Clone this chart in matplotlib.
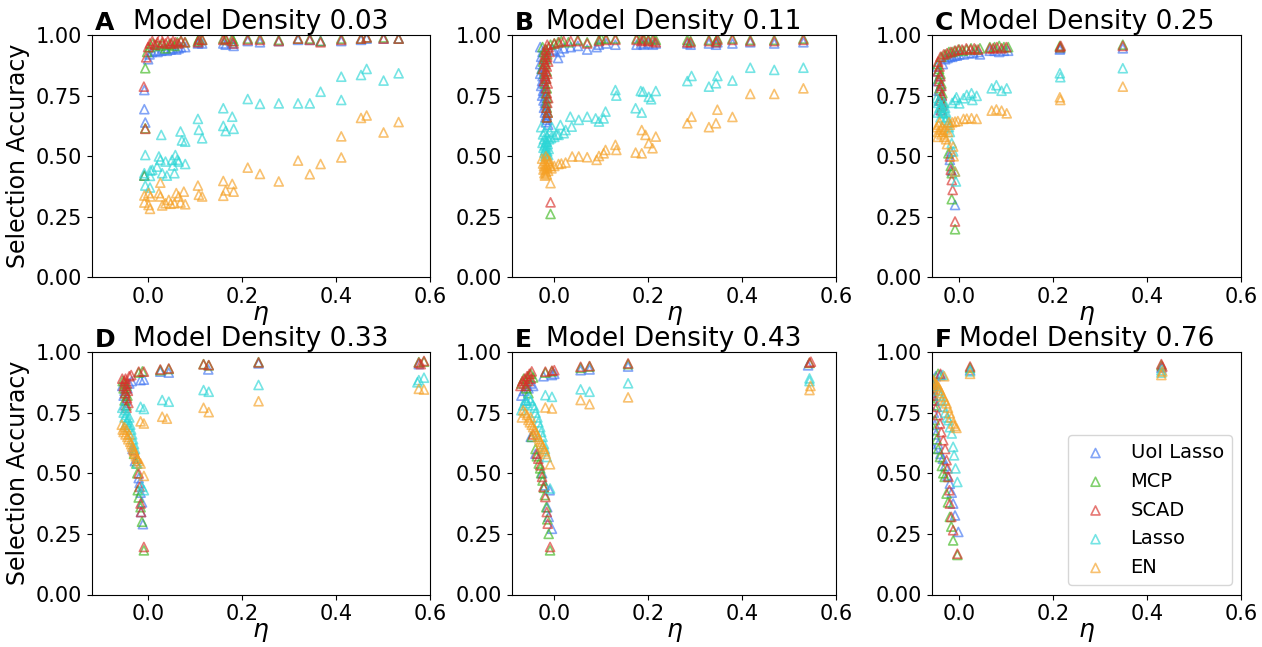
import matplotlib
matplotlib.use("Agg")
import matplotlib.pyplot as plt

methods = ["UoI Lasso", "MCP", "SCAD", "Lasso", "EN"]
colors = ["#3f74f2", "#3cb81e", "#d9302a", "#2cd6d6", "#f5a024"]
letters = ["A", "B", "C", "D", "E", "F"]
densities = ["0.03", "0.11", "0.25", "0.33", "0.43", "0.76"]
xlefts = [-0.12, -0.09, -0.058, -0.12, -0.09, -0.058]

# (eta, selection accuracy)
a_uoi = [(-0.008,0.42),(-0.008,0.773),(-0.008,0.694),(-0.006,0.639),(0.0,0.90),(0.003,0.92),(0.008,0.93),(0.015,0.935),(0.02,0.93),(0.028,0.935),(0.035,0.94),(0.04,0.935),(0.048,0.94),(0.052,0.945),(0.06,0.94),(0.065,0.945),(0.07,0.95),(0.079,0.95),(0.106,0.965),(0.108,0.97),(0.115,0.965),(0.16,0.965),(0.165,0.96),(0.179,0.965),(0.182,0.955),(0.212,0.975),(0.238,0.97),(0.278,0.975),(0.319,0.98),(0.344,0.98),(0.367,0.975),(0.411,0.975),(0.453,0.98),(0.465,0.985),(0.501,0.985),(0.533,0.985)]
a_mcp = [(-0.008,0.42),(-0.006,0.615),(-0.006,0.863),(-0.002,0.93),(0.004,0.95),(0.01,0.965),(0.018,0.96),(0.026,0.955),(0.03,0.965),(0.037,0.945),(0.044,0.96),(0.05,0.965),(0.056,0.955),(0.062,0.97),(0.07,0.975),(0.079,0.97),(0.106,0.975),(0.108,0.985),(0.115,0.98),(0.16,0.985),(0.165,0.98),(0.179,0.985),(0.182,0.975),(0.212,0.985),(0.238,0.985),(0.278,0.98),(0.319,0.985),(0.344,0.985),(0.367,0.975),(0.411,0.985),(0.453,0.985),(0.465,0.99),(0.501,0.99),(0.533,0.985)]
a_scad = [(-0.009,0.787),(-0.006,0.613),(-0.004,0.908),(0.0,0.95),(0.004,0.965),(0.009,0.975),(0.014,0.96),(0.02,0.97),(0.026,0.99),(0.03,0.97),(0.037,0.965),(0.042,0.975),(0.048,0.965),(0.053,0.975),(0.058,0.97),(0.064,0.965),(0.07,0.975),(0.078,0.97),(0.106,0.97),(0.108,0.98),(0.115,0.98),(0.16,0.98),(0.165,0.985),(0.179,0.975),(0.182,0.965),(0.212,0.98),(0.238,0.98),(0.278,0.975),(0.319,0.985),(0.344,0.98),(0.367,0.97),(0.411,0.98),(0.453,0.985),(0.465,0.99),(0.501,0.985),(0.533,0.985)]
a_lasso = [(0.106,0.654),(0.108,0.609),(0.115,0.574),(0.16,0.698),(0.16,0.625),(0.165,0.604),(0.179,0.663),(0.182,0.613),(0.212,0.736),(0.238,0.716),(0.278,0.718),(0.319,0.718),(0.344,0.718),(0.367,0.766),(0.411,0.732),(0.411,0.828),(0.453,0.835),(0.465,0.86),(0.501,0.812),(0.533,0.842),(0.028,0.588),(0.069,0.602),(0.072,0.565),(0.079,0.56),(-0.006,0.505),(0.023,0.499),(0.026,0.485),(0.019,0.457),(0.009,0.444),(0.037,0.478),(0.051,0.485),(0.058,0.505),(0.062,0.485),(0.065,0.478),(0.053,0.462),(0.079,0.468),(0.03,0.43),(0.04,0.42),(0.056,0.43),(0.004,0.419),(-0.006,0.379),(0.004,0.371),(0.005,0.441),(-0.008,0.43)]
a_en = [(0.026,0.391),(-0.008,0.338),(0.001,0.348),(0.005,0.334),(-0.008,0.309),(0.001,0.299),(0.004,0.283),(0.023,0.348),(0.026,0.334),(0.03,0.297),(0.037,0.306),(0.044,0.32),(0.048,0.304),(0.056,0.306),(0.06,0.348),(0.065,0.334),(0.069,0.309),(0.076,0.354),(0.079,0.302),(0.106,0.379),(0.108,0.341),(0.115,0.334),(0.16,0.398),(0.16,0.337),(0.165,0.359),(0.179,0.386),(0.182,0.354),(0.212,0.453),(0.238,0.427),(0.278,0.396),(0.319,0.482),(0.344,0.426),(0.367,0.468),(0.411,0.495),(0.411,0.582),(0.453,0.658),(0.465,0.668),(0.501,0.598),(0.533,0.641)]

b_uoi = [(-0.03,0.95),(-0.025,0.93),(-0.028,0.91),(-0.02,0.9),(-0.03,0.88),(-0.024,0.87),(-0.027,0.86),(-0.022,0.85),(-0.03,0.84),(-0.025,0.83),(-0.02,0.82),(-0.026,0.81),(-0.023,0.8),(-0.028,0.79),(-0.02,0.78),(-0.024,0.77),(-0.021,0.76),(-0.026,0.75),(-0.019,0.74),(-0.023,0.73),(-0.02,0.72),(-0.018,0.71),(-0.022,0.70),(-0.017,0.69),(-0.02,0.68),(-0.016,0.67),(-0.019,0.66),(-0.015,0.65),(-0.018,0.64),(-0.013,0.63),(-0.005,0.94),(0.0,0.935),(0.008,0.905),(0.012,0.93),(0.02,0.945),(0.035,0.95),(0.05,0.955),(0.07,0.94),(0.09,0.95),(0.095,0.96),(0.11,0.965),(0.13,0.96),(0.175,0.96),(0.185,0.965),(0.19,0.96),(0.2,0.965),(0.21,0.96),(0.216,0.965),(0.283,0.965),(0.29,0.96),(0.329,0.965),(0.344,0.96),(0.347,0.97),(0.379,0.965),(0.417,0.97),(0.468,0.965),(0.53,0.97)]
b_mcp = [(-0.025,0.95),(-0.018,0.94),(-0.022,0.93),(-0.015,0.92),(-0.02,0.91),(-0.017,0.9),(-0.024,0.89),(-0.019,0.88),(-0.026,0.86),(-0.016,0.85),(-0.021,0.84),(-0.018,0.82),(-0.02,0.8),(-0.016,0.78),(-0.018,0.76),(-0.015,0.74),(-0.017,0.72),(-0.016,0.70),(-0.014,0.68),(-0.016,0.66),(-0.008,0.262),(-0.008,0.96),(0.0,0.965),(0.008,0.97),(0.015,0.975),(0.03,0.97),(0.05,0.98),(0.07,0.97),(0.095,0.98),(0.1,0.985),(0.11,0.985),(0.13,0.985),(0.175,0.985),(0.185,0.99),(0.19,0.985),(0.2,0.98),(0.21,0.985),(0.216,0.98),(0.283,0.98),(0.29,0.975),(0.329,0.98),(0.344,0.975),(0.347,0.985),(0.379,0.985),(0.417,0.98),(0.468,0.98),(0.53,0.985)]
b_scad = [(-0.015,0.96),(-0.012,0.95),(-0.018,0.94),(-0.01,0.93),(-0.02,0.92),(-0.015,0.91),(-0.022,0.9),(-0.013,0.89),(-0.02,0.88),(-0.016,0.87),(-0.024,0.86),(-0.018,0.85),(-0.015,0.84),(-0.02,0.83),(-0.017,0.82),(-0.022,0.81),(-0.014,0.8),(-0.018,0.78),(-0.016,0.76),(-0.013,0.74),(-0.015,0.72),(-0.017,0.70),(-0.014,0.68),(-0.016,0.66),(-0.008,0.31),(0.0,0.965),(0.01,0.97),(0.02,0.975),(0.035,0.975),(0.05,0.975),(0.07,0.965),(0.095,0.975),(0.11,0.98),(0.13,0.98),(0.175,0.98),(0.185,0.975),(0.19,0.98),(0.2,0.975),(0.21,0.975),(0.216,0.97),(0.283,0.97),(0.29,0.97),(0.329,0.975),(0.344,0.97),(0.347,0.98),(0.379,0.98),(0.417,0.975),(0.468,0.975),(0.53,0.98)]
b_lasso = [(-0.028,0.62),(-0.02,0.60),(-0.024,0.59),(-0.016,0.58),(-0.022,0.57),(-0.018,0.56),(-0.025,0.555),(-0.014,0.55),(-0.02,0.545),(-0.017,0.54),(-0.023,0.535),(-0.012,0.53),(-0.019,0.525),(-0.015,0.52),(-0.021,0.515),(-0.017,0.51),(-0.013,0.505),(-0.019,0.5),(-0.016,0.56),(-0.011,0.57),(-0.01,0.6),(-0.005,0.62),(0.0,0.58),(0.005,0.59),(-0.007,0.575),(0.009,0.588),(0.013,0.629),(0.02,0.595),(0.024,0.608),(0.034,0.663),(0.037,0.622),(0.052,0.65),(0.07,0.663),(0.088,0.656),(0.095,0.643),(0.109,0.684),(0.105,0.656),(0.13,0.773),(0.132,0.75),(0.173,0.698),(0.186,0.68),(0.184,0.769),(0.189,0.766),(0.201,0.745),(0.206,0.735),(0.216,0.769),(0.283,0.81),(0.292,0.831),(0.329,0.787),(0.344,0.801),(0.347,0.831),(0.379,0.812),(0.417,0.865),(0.468,0.856),(0.53,0.865)]
b_en = [(-0.026,0.49),(-0.02,0.48),(-0.024,0.47),(-0.017,0.465),(-0.022,0.46),(-0.015,0.455),(-0.019,0.45),(-0.023,0.445),(-0.013,0.44),(-0.018,0.435),(-0.021,0.43),(-0.016,0.425),(-0.02,0.42),(-0.012,0.47),(-0.01,0.48),(-0.014,0.49),(-0.008,0.46),(-0.006,0.45),(-0.018,0.5),(-0.008,0.389),(0.0,0.46),(0.009,0.468),(0.015,0.47),(0.024,0.474),(0.038,0.499),(0.052,0.499),(0.07,0.496),(0.09,0.485),(0.095,0.501),(0.105,0.512),(0.109,0.526),(0.13,0.547),(0.132,0.526),(0.173,0.515),(0.186,0.512),(0.186,0.608),(0.194,0.588),(0.201,0.554),(0.209,0.533),(0.216,0.581),(0.283,0.636),(0.292,0.663),(0.329,0.62),(0.344,0.636),(0.347,0.692),(0.379,0.662),(0.417,0.757),(0.468,0.757),(0.53,0.78)]

c_uoi = [(-0.048,0.87),(-0.045,0.85),(-0.042,0.83),(-0.046,0.81),(-0.04,0.79),(-0.044,0.77),(-0.038,0.75),(-0.042,0.73),(-0.036,0.71),(-0.04,0.69),(-0.035,0.88),(-0.03,0.90),(-0.025,0.905),(-0.02,0.91),(-0.015,0.91),(-0.01,0.915),(-0.005,0.915),(0.0,0.92),(0.01,0.92),(0.02,0.925),(0.03,0.925),(0.04,0.93),(0.044,0.92),(0.065,0.935),(0.075,0.935),(0.085,0.93),(0.095,0.935),(0.104,0.935),(0.214,0.94),(0.215,0.945),(0.348,0.945),(-0.02,0.485),(-0.016,0.44),(-0.009,0.299),(-0.018,0.52)]
c_mcp = [(-0.046,0.88),(-0.043,0.86),(-0.04,0.84),(-0.044,0.82),(-0.038,0.80),(-0.042,0.78),(-0.036,0.76),(-0.04,0.74),(-0.034,0.72),(-0.038,0.70),(-0.035,0.68),(-0.038,0.91),(-0.03,0.92),(-0.022,0.93),(-0.015,0.93),(-0.008,0.935),(0.0,0.94),(0.008,0.935),(0.016,0.94),(0.025,0.945),(0.035,0.94),(0.044,0.945),(0.065,0.95),(0.075,0.95),(0.085,0.955),(0.095,0.95),(0.104,0.95),(0.214,0.955),(0.215,0.95),(0.348,0.96),(-0.023,0.512),(-0.018,0.46),(-0.016,0.43),(-0.016,0.323),(-0.009,0.199)]
c_scad = [(-0.045,0.89),(-0.042,0.87),(-0.046,0.85),(-0.04,0.83),(-0.043,0.81),(-0.038,0.79),(-0.041,0.77),(-0.037,0.75),(-0.04,0.73),(-0.036,0.71),(-0.038,0.69),(-0.04,0.91),(-0.033,0.92),(-0.026,0.925),(-0.018,0.93),(-0.01,0.935),(-0.002,0.94),(0.006,0.94),(0.015,0.945),(0.024,0.94),(0.032,0.945),(0.04,0.94),(0.065,0.945),(0.072,0.945),(0.08,0.95),(0.09,0.945),(0.1,0.95),(0.214,0.95),(0.216,0.955),(0.348,0.955),(-0.02,0.499),(-0.018,0.444),(-0.016,0.402),(-0.014,0.361),(-0.009,0.231)]
c_lasso = [(-0.048,0.74),(-0.045,0.72),(-0.042,0.70),(-0.046,0.68),(-0.04,0.66),(-0.044,0.73),(-0.038,0.71),(-0.036,0.69),(-0.034,0.675),(-0.03,0.70),(-0.032,0.72),(-0.028,0.68),(-0.026,0.66),(-0.03,0.65),(-0.024,0.64),(-0.022,0.62),(-0.02,0.60),(-0.015,0.72),(-0.009,0.732),(-0.006,0.743),(0.0,0.718),(0.009,0.739),(0.016,0.753),(0.026,0.76),(0.028,0.732),(0.037,0.749),(0.069,0.78),(0.079,0.793),(0.09,0.77),(0.101,0.78),(0.214,0.842),(0.215,0.826),(0.348,0.863),(-0.016,0.554),(-0.013,0.52),(-0.009,0.437),(-0.007,0.396)]
c_en = [(-0.048,0.62),(-0.045,0.60),(-0.042,0.64),(-0.046,0.58),(-0.04,0.61),(-0.044,0.63),(-0.038,0.59),(-0.036,0.62),(-0.034,0.60),(-0.032,0.58),(-0.03,0.61),(-0.028,0.57),(-0.026,0.55),(-0.024,0.60),(-0.022,0.64),(-0.02,0.63),(-0.015,0.64),(-0.009,0.643),(-0.003,0.645),(0.009,0.654),(0.016,0.655),(0.026,0.657),(0.037,0.654),(0.069,0.688),(0.079,0.693),(0.09,0.688),(0.101,0.677),(0.214,0.743),(0.215,0.732),(0.348,0.787),(-0.013,0.54),(-0.012,0.50),(-0.009,0.437)]

d_uoi = [(-0.055,0.86),(-0.05,0.84),(-0.052,0.82),(-0.047,0.80),(-0.05,0.78),(-0.044,0.85),(-0.04,0.87),(-0.035,0.88),(-0.016,0.884),(-0.009,0.886),(0.026,0.919),(0.044,0.915),(0.128,0.928),(0.235,0.953),(0.576,0.95),(-0.033,0.60),(-0.028,0.55),(-0.02,0.48),(-0.018,0.46),(-0.016,0.42),(-0.013,0.38),(-0.011,0.29),(-0.015,0.34)]
d_mcp = [(-0.054,0.88),(-0.05,0.87),(-0.046,0.86),(-0.052,0.85),(-0.048,0.83),(-0.044,0.82),(-0.05,0.80),(-0.046,0.78),(-0.02,0.915),(-0.012,0.92),(0.026,0.925),(0.044,0.93),(0.118,0.95),(0.129,0.945),(0.235,0.958),(0.576,0.958),(0.587,0.96),(-0.03,0.58),(-0.025,0.54),(-0.023,0.50),(-0.022,0.43),(-0.02,0.40),(-0.016,0.36),(-0.013,0.30),(-0.009,0.182)]
d_scad = [(-0.055,0.89),(-0.05,0.88),(-0.048,0.89),(-0.045,0.87),(-0.052,0.86),(-0.047,0.85),(-0.043,0.84),(-0.049,0.83),(-0.045,0.81),(-0.042,0.79),(-0.046,0.77),(-0.04,0.90),(-0.036,0.905),(-0.02,0.919),(-0.009,0.919),(0.026,0.928),(0.044,0.932),(0.118,0.949),(0.129,0.946),(0.235,0.957),(0.576,0.956),(0.587,0.963),(0.58,0.95),(-0.03,0.595),(-0.023,0.56),(-0.02,0.499),(-0.018,0.444),(-0.016,0.375),(-0.015,0.34),(-0.009,0.196)]
d_lasso = [(-0.055,0.77),(-0.052,0.75),(-0.048,0.76),(-0.05,0.73),(-0.046,0.74),(-0.044,0.72),(-0.048,0.70),(-0.042,0.69),(-0.045,0.71),(-0.04,0.73),(-0.038,0.70),(-0.036,0.68),(-0.034,0.66),(-0.032,0.64),(-0.03,0.62),(-0.028,0.60),(-0.016,0.774),(-0.009,0.765),(0.03,0.802),(0.044,0.795),(0.118,0.843),(0.129,0.836),(0.235,0.864),(0.576,0.884),(0.587,0.894),(0.573,0.875),(-0.023,0.54),(-0.013,0.444),(-0.009,0.43)]
d_en = [(-0.056,0.70),(-0.054,0.68),(-0.05,0.69),(-0.052,0.67),(-0.048,0.66),(-0.046,0.68),(-0.044,0.65),(-0.042,0.64),(-0.04,0.66),(-0.038,0.63),(-0.036,0.62),(-0.034,0.61),(-0.032,0.60),(-0.03,0.59),(-0.028,0.58),(-0.026,0.57),(-0.024,0.56),(-0.02,0.55),(-0.016,0.714),(-0.009,0.705),(0.03,0.733),(0.04,0.725),(0.118,0.77),(0.129,0.752),(0.235,0.797),(0.576,0.848),(0.587,0.845),(-0.016,0.54),(-0.009,0.489)]

e_uoi = [(-0.07,0.82),(-0.065,0.84),(-0.06,0.86),(-0.055,0.85),(-0.05,0.87),(-0.045,0.86),(-0.06,0.80),(-0.023,0.90),(-0.005,0.905),(0.0,0.91),(0.056,0.925),(0.075,0.928),(0.157,0.94),(0.54,0.945),(-0.05,0.65),(-0.04,0.58),(-0.026,0.50),(-0.02,0.45),(-0.01,0.43),(-0.015,0.36),(-0.005,0.271),(-0.012,0.32)]
e_mcp = [(-0.07,0.87),(-0.065,0.89),(-0.06,0.88),(-0.055,0.90),(-0.05,0.91),(-0.045,0.895),(-0.06,0.85),(-0.055,0.83),(-0.019,0.915),(-0.005,0.92),(0.056,0.935),(0.075,0.94),(0.157,0.95),(0.543,0.955),(-0.048,0.65),(-0.04,0.60),(-0.037,0.57),(-0.033,0.54),(-0.03,0.52),(-0.028,0.50),(-0.025,0.47),(-0.022,0.44),(-0.02,0.41),(-0.017,0.36),(-0.015,0.31),(-0.012,0.25),(-0.009,0.182)]
e_scad = [(-0.072,0.86),(-0.068,0.88),(-0.063,0.89),(-0.058,0.90),(-0.053,0.91),(-0.048,0.92),(-0.065,0.87),(-0.06,0.86),(-0.055,0.88),(-0.05,0.89),(-0.019,0.919),(-0.005,0.923),(0.0,0.925),(0.056,0.939),(0.075,0.942),(0.157,0.953),(0.543,0.956),(0.546,0.96),(-0.045,0.66),(-0.037,0.581),(-0.034,0.56),(-0.03,0.533),(-0.026,0.485),(-0.023,0.444),(-0.019,0.402),(-0.016,0.34),(-0.014,0.292),(-0.009,0.196)]
e_lasso = [(-0.07,0.76),(-0.066,0.78),(-0.062,0.80),(-0.058,0.79),(-0.054,0.81),(-0.05,0.80),(-0.046,0.78),(-0.042,0.77),(-0.04,0.75),(-0.036,0.73),(-0.034,0.71),(-0.03,0.69),(-0.028,0.67),(-0.025,0.65),(-0.022,0.62),(-0.02,0.60),(-0.019,0.822),(-0.005,0.815),(0.056,0.846),(0.075,0.836),(0.157,0.871),(0.543,0.891),(0.543,0.88),(-0.016,0.567),(-0.009,0.437)]
e_en = [(-0.069,0.73),(-0.066,0.76),(-0.062,0.75),(-0.058,0.74),(-0.055,0.72),(-0.052,0.71),(-0.05,0.73),(-0.048,0.70),(-0.045,0.69),(-0.042,0.68),(-0.04,0.67),(-0.038,0.66),(-0.035,0.65),(-0.032,0.64),(-0.03,0.63),(-0.028,0.62),(-0.025,0.61),(-0.022,0.60),(-0.02,0.59),(-0.018,0.58),(-0.019,0.771),(-0.005,0.767),(0.056,0.802),(0.075,0.785),(0.157,0.813),(0.543,0.843),(0.545,0.86),(-0.009,0.537)]

f_uoi = [(-0.056,0.87),(-0.056,0.85),(-0.055,0.80),(-0.054,0.75),(-0.052,0.70),(-0.05,0.66),(-0.055,0.602),(-0.045,0.62),(-0.04,0.58),(-0.035,0.56),(-0.03,0.53),(-0.025,0.49),(-0.02,0.457),(-0.016,0.42),(-0.013,0.375),(-0.009,0.326),(-0.002,0.258),(-0.05,0.90),(-0.04,0.905),(0.023,0.925),(0.43,0.935)]
f_mcp = [(-0.056,0.86),(-0.056,0.82),(-0.054,0.78),(-0.052,0.72),(-0.052,0.678),(-0.048,0.64),(-0.045,0.60),(-0.041,0.567),(-0.037,0.53),(-0.034,0.50),(-0.031,0.485),(-0.027,0.416),(-0.024,0.38),(-0.02,0.32),(-0.017,0.28),(-0.013,0.223),(-0.004,0.163),(-0.045,0.91),(0.023,0.935),(0.43,0.945)]
f_scad = [(-0.056,0.87),(-0.055,0.86),(-0.056,0.843),(-0.055,0.82),(-0.052,0.80),(-0.048,0.774),(-0.045,0.74),(-0.041,0.705),(-0.038,0.67),(-0.034,0.636),(-0.03,0.60),(-0.027,0.554),(-0.025,0.52),(-0.023,0.485),(-0.021,0.43),(-0.02,0.375),(-0.017,0.32),(-0.013,0.265),(-0.004,0.168),(-0.04,0.91),(0.023,0.94),(0.43,0.95),(0.432,0.94)]
f_lasso = [(-0.056,0.89),(-0.056,0.88),(-0.052,0.87),(-0.048,0.86),(-0.044,0.84),(-0.04,0.82),(-0.037,0.80),(-0.034,0.774),(-0.03,0.75),(-0.026,0.73),(-0.023,0.719),(-0.02,0.69),(-0.016,0.664),(-0.013,0.609),(-0.011,0.574),(-0.008,0.52),(-0.004,0.464),(-0.035,0.905),(0.023,0.92),(0.43,0.925),(0.43,0.915)]
f_en = [(-0.056,0.88),(-0.055,0.885),(-0.054,0.875),(-0.05,0.87),(-0.047,0.865),(-0.044,0.855),(-0.041,0.843),(-0.038,0.83),(-0.034,0.815),(-0.031,0.80),(-0.027,0.788),(-0.024,0.77),(-0.02,0.747),(-0.017,0.73),(-0.013,0.705),(-0.009,0.695),(-0.006,0.687),(-0.032,0.90),(0.023,0.91),(0.43,0.905),(0.432,0.92)]

panels = [
    [a_uoi, a_mcp, a_scad, a_lasso, a_en],
    [b_uoi, b_mcp, b_scad, b_lasso, b_en],
    [c_uoi, c_mcp, c_scad, c_lasso, c_en],
    [d_uoi, d_mcp, d_scad, d_lasso, d_en],
    [e_uoi, e_mcp, e_scad, e_lasso, e_en],
    [f_uoi, f_mcp, f_scad, f_lasso, f_en],
]

W, H = 1262, 647
fig = plt.figure(figsize=(W / 100, H / 100), dpi=100)

# every panel shares the same eta scale, so widths follow the x limits
px_per_unit = 470.0
col_left = [91.7, 512.0, 932.0]
row_top = [35.0, 352.0]
ax_h = 242.5

for i, series in enumerate(panels):
    r, c = divmod(i, 3)
    width = (0.6 - xlefts[i]) * px_per_unit
    ax = fig.add_axes([col_left[c] / W, (H - row_top[r] - ax_h) / H, width / W, ax_h / H])
    for pts, name, col in zip(series, methods, colors):
        xs = [p[0] for p in pts]
        ys = [p[1] for p in pts]
        ax.scatter(xs, ys, marker="^", s=42, facecolors="none", edgecolors=col,
                   linewidths=1.2, alpha=0.65, label=name)
    ax.set_xlim(xlefts[i], 0.6)
    ax.set_ylim(0, 1)
    ax.set_xticks([0.0, 0.2, 0.4, 0.6])
    ax.set_xticklabels(["0.0", "0.2", "0.4", "0.6"])
    ax.set_yticks([0, 0.25, 0.5, 0.75, 1.0])
    ax.set_yticklabels(["0.00", "0.25", "0.50", "0.75", "1.00"])
    ax.tick_params(labelsize=15)
    ax.set_xlabel(r"$\eta$", fontsize=18, labelpad=-3)
    ax.set_title("Model Density " + densities[i], fontsize=19, pad=2)
    ax.text(0.01, 1.0, letters[i], transform=ax.transAxes, fontsize=18,
            fontweight="bold", va="bottom", ha="left")
    if c == 0:
        ax.set_ylabel("Selection Accuracy", fontsize=17)
    if i == 5:
        ax.legend(loc="lower right", fontsize=14)

fig.savefig("out.png", dpi=100)
